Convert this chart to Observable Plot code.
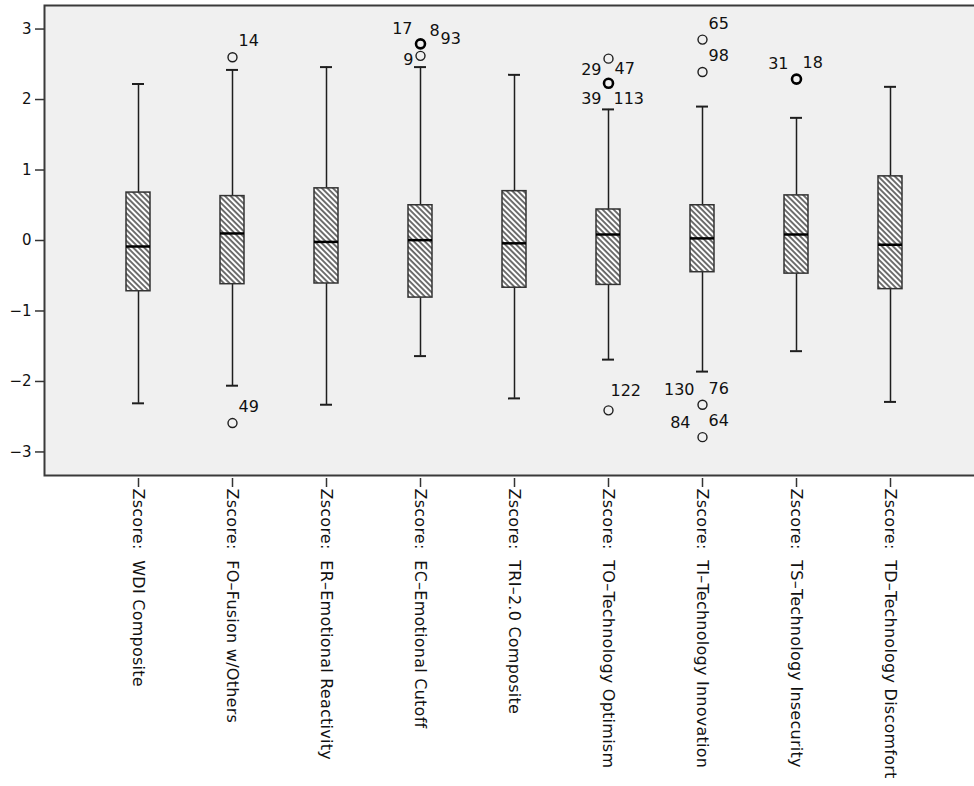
<!DOCTYPE html>
<html>
<head>
<meta charset="utf-8">
<script src="https://cdn.jsdelivr.net/npm/d3@7"></script>
<script src="https://cdn.jsdelivr.net/npm/@observablehq/plot@0.6"></script>
<style>
  html, body { margin: 0; padding: 0; background: white; overflow: hidden; }
  svg { overflow: hidden !important; display: block; }
  .xax text { letter-spacing: 0.25px; }
</style>
</head>
<body>
<div id="chart"></div>
<script>
// ---- Data ----
const variables = [
  "Zscore:\u00a0 WDI Composite",
  "Zscore:\u00a0 FO–Fusion w/Others",
  "Zscore:\u00a0 ER–Emotional Reactivity",
  "Zscore:\u00a0 EC–Emotional Cutoff",
  "Zscore:\u00a0 TRI–2.0 Composite",
  "Zscore:\u00a0 TO–Technology Optimism",
  "Zscore:\u00a0 TI–Technology Innovation",
  "Zscore:\u00a0 TS–Technology Insecurity",
  "Zscore:\u00a0 TD–Technology Discomfort"
];
const whiskerLow  = [-2.31, -2.06, -2.33, -1.64, -2.24, -1.69, -1.86, -1.57, -2.29];
const q1          = [-0.72, -0.62, -0.61, -0.81, -0.67, -0.63, -0.45, -0.47, -0.69];
const median      = [-0.085, 0.10, -0.02, 0.005, -0.04, 0.085, 0.03, 0.085, -0.06];
const q3          = [0.68, 0.63, 0.74, 0.50, 0.70, 0.44, 0.50, 0.64, 0.91];
const whiskerHigh = [2.22, 2.42, 2.46, 2.46, 2.35, 1.86, 1.90, 1.74, 2.18];

// outlier circles (variable index, value, several overlapping cases?)
const outlierVar   = [1, 1, 3, 3, 5, 5, 5, 6, 6, 6, 6, 7];
const outlierValue = [2.60, -2.59, 2.62, 2.79, 2.58, 2.23, -2.41, 2.85, 2.39, -2.33, -2.79, 2.29];
const outlierMulti = [false, false, false, true, false, true, false, false, false, false, false, true];

// outlier case labels (variable index, value, case number, placement)
const labelVar   = [1, 1, 3, 3, 3, 3, 5, 5, 5, 5, 5, 6, 6, 6, 6, 6, 6, 7, 7];
const labelValue = [2.60, -2.59, 2.62, 2.79, 2.79, 2.79, 2.58, 2.58, 2.23, 2.23, -2.41, 2.85, 2.39, -2.33, -2.33, -2.79, -2.79, 2.29, 2.29];
const labelText  = ["14", "49", "9", "17", "8", "93", "29", "47", "39", "113", "122", "65", "98", "130", "76", "84", "64", "31", "18"];
const labelPlace = ["NE", "NE", "W", "NW", "NE2", "E2", "SW", "SE", "SSW", "SSE", "N", "NE", "NE", "NW", "NE", "NW2", "NE", "NW", "NE"];

const yTicks = [-3, -2, -1, 0, 1, 2, 3];

// ---- Build tables ----
const boxes = variables.map((v, i) => ({
  v, lo: whiskerLow[i], q1: q1[i], med: median[i], q3: q3[i], hi: whiskerHigh[i]
}));
const outliers = outlierVar.map((k, i) => ({v: variables[k], y: outlierValue[i], multi: outlierMulti[i]}));
const labels = labelVar.map((k, i) => ({v: variables[k], y: labelValue[i], text: labelText[i], place: labelPlace[i]}));

const placement = {
  NE: {dx: 6, dy: -16, textAnchor: "start"},
  NE2: {dx: 9, dy: -13, textAnchor: "start"},
  E2: {dx: 20, dy: -5, textAnchor: "start"},
  N: {dx: 2, dy: -19, textAnchor: "start"},
  NW: {dx: -8, dy: -15, textAnchor: "end"},
  NW2: {dx: -12, dy: -14, textAnchor: "end"},
  W: {dx: -7, dy: 4, textAnchor: "end"},
  SW: {dx: -7, dy: 11, textAnchor: "end"},
  SE: {dx: 6, dy: 10, textAnchor: "start"},
  SSW: {dx: -7, dy: 16, textAnchor: "end"},
  SSE: {dx: 5, dy: 16, textAnchor: "start"}
};
const labelMarks = Object.entries(placement).map(([key, o]) =>
  Plot.text(labels.filter(d => d.place === key), {
    x: "v", y: "y", text: "text", dx: o.dx, dy: o.dy, textAnchor: o.textAnchor,
    fontSize: 16, fill: "#111"
  })
);

const ink = "#1e1e1e";
const chart = Plot.plot({
  width: 974,
  height: 786,
  marginLeft: 44,
  marginRight: 0,
  marginTop: 5,
  marginBottom: 311,
  style: {fontFamily: "'DejaVu Sans', sans-serif", fontSize: "15px", color: "#111", background: "white", overflow: "hidden"},
  x: {type: "band", domain: variables, range: [44, 984], paddingInner: 0.745, paddingOuter: 0.872, align: 0.5},
  y: {domain: [-3.334, 3.334]},
  marks: [
    Plot.frame({fill: "#f0f0f0", stroke: "#3a3a3a", strokeWidth: 2, insetRight: -8}),
    Plot.ruleX(boxes, {x: "v", y1: "lo", y2: "q1", stroke: ink, strokeWidth: 1.5}),
    Plot.ruleX(boxes, {x: "v", y1: "q3", y2: "hi", stroke: ink, strokeWidth: 1.5}),
    Plot.tickY(boxes, {x: "v", y: "lo", insetLeft: 6, insetRight: 6, stroke: ink, strokeWidth: 2}),
    Plot.tickY(boxes, {x: "v", y: "hi", insetLeft: 6, insetRight: 6, stroke: ink, strokeWidth: 2}),
    Plot.barY(boxes, {x: "v", y1: "q1", y2: "q3", fill: "white"}),
    Plot.barY(boxes, {x: "v", y1: "q1", y2: "q3", fill: "url(#hatch)", stroke: "#333", strokeWidth: 1.5}),
    Plot.tickY(boxes, {x: "v", y: "med", stroke: "#000", strokeWidth: 2.5}),
    Plot.dot(outliers.filter(d => !d.multi), {x: "v", y: "y", r: 4.5, stroke: ink, strokeWidth: 1.4, fill: "none"}),
    Plot.dot(outliers.filter(d => d.multi), {x: "v", y: "y", r: 4.5, stroke: "#000", strokeWidth: 2.6, fill: "none"}),
    Plot.axisY({ticks: yTicks, tickFormat: d3.format("d"), tickSize: 9, tickPadding: 4, label: null, fontSize: 15, stroke: "#333", strokeWidth: 1.5}),
    Plot.axisX({tickRotate: 90, tickSize: 9, tickPadding: 1, dy: 3, label: null, fontSize: 16, stroke: "#333", strokeWidth: 1.5, className: "xax"}),
    ...labelMarks
  ]
});

const ns = "http://www.w3.org/2000/svg";
const defs = document.createElementNS(ns, "defs");
const pattern = document.createElementNS(ns, "pattern");
pattern.setAttribute("id", "hatch");
pattern.setAttribute("patternUnits", "userSpaceOnUse");
pattern.setAttribute("width", "3.9");
pattern.setAttribute("height", "3.9");
pattern.setAttribute("patternTransform", "rotate(-45)");
const line = document.createElementNS(ns, "line");
line.setAttribute("x1", "1"); line.setAttribute("y1", "-1");
line.setAttribute("x2", "1"); line.setAttribute("y2", "5");
line.setAttribute("stroke", "#222");
line.setAttribute("stroke-width", "1.3");
pattern.appendChild(line);
defs.appendChild(pattern);
chart.insertBefore(defs, chart.firstChild);

document.getElementById("chart").appendChild(chart);
</script>
</body>
</html>
